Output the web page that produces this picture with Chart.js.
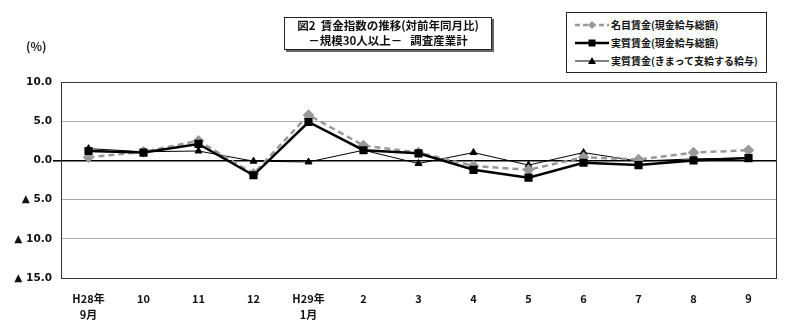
<!DOCTYPE html>
<html>
<head>
<meta charset="utf-8">
<script src="https://cdn.jsdelivr.net/npm/chart.js@4/dist/chart.umd.min.js"></script>
<style>
body { margin: 0; background: #fff; font-family: "Noto Sans CJK JP", "Noto Sans", sans-serif; }
#wrap { position: relative; width: 800px; height: 329px; }
#title {
    position: absolute; left: 284px; top: 17px; width: 206px; height: 31px;
    border: 1px solid #222; box-shadow: 2px 2px 0 #666; background: #fff;
    font-size: 11.5px; font-weight: bold; line-height: 15px; text-align: center; color: #111;
}
#unit { position: absolute; left: 26px; top: 37px; font-size: 12px; font-weight: bold; color: #222; }
#legend {
    position: absolute; left: 566px; top: 12px; width: 199px; height: 59px;
    border: 1px solid #222; background: #fff; font-size: 10px; font-weight: bold; color: #111;
}
.row { position: absolute; left: 8px; height: 16px; line-height: 16px; white-space: nowrap; display: flex; align-items: center; }
.row svg { margin-right: 2px; }
</style>
</head>
<body>
<div id="wrap">
<canvas id="chart" width="800" height="329"></canvas>
<div id="unit">(%)</div>
<div id="title">図2&nbsp; 賃金指数の推移(対前年同月比)<br>－規模30人以上－&nbsp;&nbsp; 調査産業計</div>
<div id="legend">
  <div class="row" style="top:4px"><svg width="34" height="10"><line x1="0" y1="5" x2="34" y2="5" stroke="#999" stroke-width="2.5" stroke-dasharray="5,3"/><polygon points="17,1 21,5 17,9 13,5" fill="#999"/></svg>名目賃金(現金給与総額)</div>
  <div class="row" style="top:22px"><svg width="34" height="10"><line x1="0" y1="5" x2="34" y2="5" stroke="#000" stroke-width="2.5"/><rect x="13.5" y="1.5" width="7" height="7" fill="#000"/></svg>実質賃金(現金給与総額)</div>
  <div class="row" style="top:40px"><svg width="34" height="10"><line x1="0" y1="5" x2="34" y2="5" stroke="#000" stroke-width="1"/><polygon points="17,1 21,8 13,8" fill="#000"/></svg>実質賃金(きまって支給する給与)</div>
</div>
</div>
<script>
const months = [['H28年', '9月'], '10', '11', '12', ['H29年', '1月'], '2', '3', '4', '5', '6', '7', '8', '9'];
const nominalWage = [0.4, 1.1, 2.5, -1.7, 5.8, 1.9, 1.0, -0.7, -1.2, 0.4, 0.1, 1.0, 1.3];
const realWage = [1.2, 1.0, 2.1, -1.9, 4.9, 1.3, 0.9, -1.2, -2.2, -0.3, -0.6, 0.0, 0.3];
const realScheduled = [1.5, 1.1, 1.2, -0.1, -0.2, 1.3, -0.4, 1.0, -0.6, 1.0, -0.1, 0.2, 0.3];
const yTicks = [10, 5, 0, -5, -10, -15];

// frame on top and right of the plot
const framePlugin = {
    id: 'frame',
    afterDraw(chart) {
        const a = chart.chartArea;
        const c = chart.ctx;
        c.save();
        c.strokeStyle = '#333';
        c.lineWidth = 1;
        c.strokeRect(a.left + 0.5, a.top + 0.5, a.right - a.left, a.bottom - a.top);
        c.restore();
    }
};

const ctx = document.getElementById('chart').getContext('2d');
new Chart(ctx, {
    type: 'line',
    data: {
        labels: months,
        datasets: [
            {
                label: '名目賃金(現金給与総額)',
                data: nominalWage,
                borderColor: '#999',
                backgroundColor: '#999',
                borderWidth: 2.5,
                borderDash: [6, 4],
                pointStyle: 'rectRot',
                pointRadius: 4,
                order: 2
            },
            {
                label: '実質賃金(現金給与総額)',
                data: realWage,
                borderColor: '#000',
                backgroundColor: '#000',
                borderWidth: 2.5,
                pointStyle: 'rect',
                pointRadius: 4,
                order: 1
            },
            {
                label: '実質賃金(きまって支給する給与)',
                data: realScheduled,
                borderColor: '#000',
                backgroundColor: '#000',
                borderWidth: 1,
                pointStyle: 'triangle',
                pointRadius: 4,
                order: 3
            }
        ]
    },
    options: {
        responsive: false,
        animation: false,
        layout: { padding: { left: 0, right: 24, top: 82, bottom: 0 } },
        plugins: { legend: { display: false }, tooltip: { enabled: false } },
        scales: {
            x: {
                offset: true,
                grid: { display: false, drawTicks: false },
                border: { color: '#333' },
                ticks: {
                    maxRotation: 0,
                    autoSkip: false,
                    padding: 13,
                    color: '#111',
                    font: { family: '"Noto Sans CJK JP", sans-serif', size: 11, weight: 'bold', lineHeight: 1.45 }
                },
                afterFit(scale) { scale.height = 51; }
            },
            y: {
                min: -15,
                max: 10,
                afterBuildTicks(scale) { scale.ticks = yTicks.map(v => ({ value: v })); },
                grid: {
                    color: ctx => ctx.tick && ctx.tick.value === 0 ? '#000' : '#aaa',
                    lineWidth: ctx => ctx.tick && ctx.tick.value === 0 ? 1.6 : 1,
                    tickColor: ctx => ctx.tick && ctx.tick.value === 0 ? '#000' : 'rgba(0,0,0,0)',
                    tickLength: 8
                },
                border: { color: '#333' },
                ticks: {
                    padding: 1,
                    color: '#111',
                    font: { family: '"DejaVu Sans", sans-serif', size: 10.5, weight: 'bold' },
                    callback: v => v < 0 ? '▲ ' + Math.abs(v).toFixed(1) : v.toFixed(1)
                },
                afterFit(scale) { scale.width = 61; }
            }
        }
    },
    plugins: [framePlugin]
});
</script>
</body>
</html>
